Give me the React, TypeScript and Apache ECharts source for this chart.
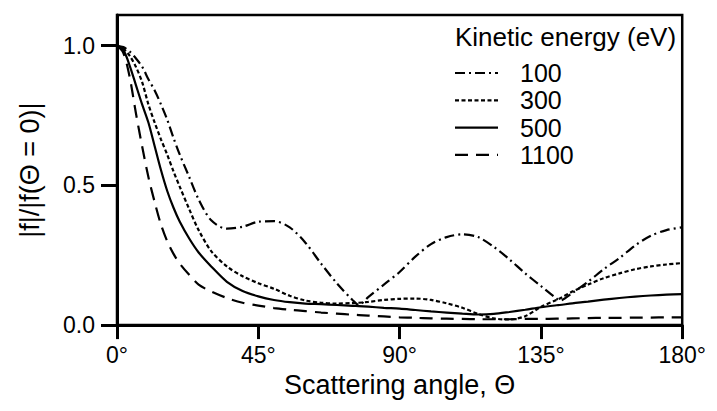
import React, { useEffect, useRef } from "react";
import * as echarts from "echarts";

// Scattering angle samples (degrees)
const angles = [
  0, 2, 4, 6, 8, 10, 12, 14, 16, 18, 20, 23, 26, 30, 35, 40, 45, 50, 55, 60,
  65, 70, 75, 77, 80, 85, 90, 95, 100, 105, 110, 115, 120, 125, 130, 135, 140,
  141, 145, 150, 155, 160, 165, 170, 175, 180,
];

// Normalised amplitude |f|/|f(0)| for each kinetic energy
const e100 = [
  1.0, 0.995, 0.98, 0.955, 0.925, 0.88, 0.84, 0.79, 0.735, 0.67, 0.61, 0.53,
  0.45, 0.375, 0.345, 0.352, 0.37, 0.372, 0.35, 0.295, 0.22, 0.15, 0.09, 0.072,
  0.1, 0.145, 0.19, 0.245, 0.29, 0.315, 0.325, 0.315, 0.28, 0.235, 0.185, 0.14,
  0.095, 0.088, 0.115, 0.155, 0.2, 0.24, 0.285, 0.32, 0.34, 0.35,
];
const e300 = [
  1.0, 0.99, 0.965, 0.925, 0.87, 0.79, 0.725, 0.665, 0.61, 0.55, 0.495, 0.415,
  0.34, 0.265, 0.21, 0.175, 0.15, 0.13, 0.105, 0.088, 0.08, 0.077, 0.079, 0.08,
  0.083, 0.09, 0.094, 0.095, 0.09, 0.078, 0.062, 0.04, 0.024, 0.02, 0.032,
  0.065, 0.09, 0.095, 0.12, 0.145, 0.168, 0.185, 0.2, 0.21, 0.217, 0.222,
];
const e500 = [
  1.0, 0.985, 0.93, 0.86, 0.79, 0.725, 0.64, 0.555, 0.48, 0.42, 0.37, 0.31,
  0.26, 0.21, 0.155, 0.122, 0.103, 0.09, 0.082, 0.077, 0.075, 0.072, 0.069,
  0.068, 0.066, 0.062, 0.059, 0.054, 0.049, 0.045, 0.041, 0.038, 0.04, 0.047,
  0.055, 0.064, 0.071, 0.072, 0.078, 0.084, 0.091, 0.097, 0.102, 0.106, 0.109,
  0.111,
];
const e1100 = [
  1.0, 0.975, 0.89, 0.76, 0.64, 0.53, 0.44, 0.36, 0.3, 0.255, 0.22, 0.18,
  0.145, 0.12, 0.097, 0.08, 0.07, 0.061, 0.055, 0.05, 0.045, 0.041, 0.037,
  0.036, 0.034, 0.031, 0.028, 0.026, 0.024, 0.023, 0.022, 0.021, 0.021, 0.021,
  0.022, 0.022, 0.023, 0.023, 0.024, 0.025, 0.026, 0.026, 0.027, 0.027, 0.028,
  0.028,
];

const energyNames = ["100", "300", "500", "1100"];
const xTicks = [0, 45, 90, 135, 180];
const yTicks = [0, 0.5, 1.0];

const FONT = "'Liberation Sans', Arial, Helvetica, sans-serif";

// Dash pattern per energy, shared by the curves and the key
const dashes: (number[] | null)[] = [[10, 4, 2, 4], [4, 2.5], null, [13, 8]];

export default function App() {
  const ref = useRef<HTMLDivElement>(null);

  useEffect(() => {
    if (!ref.current) return;
    const chart = echarts.init(ref.current, undefined, { renderer: "svg" });

    const seriesData = [e100, e300, e500, e1100];

    // Key: title plus one line sample and label per energy
    const keyLeft = 447;
    const keyTop = 65;
    const keyStep = 27.3;
    const keyItems: any[] = [
      {
        type: "text",
        x: keyLeft,
        y: 16,
        style: {
          text: "Kinetic energy (eV)",
          fontSize: 26,
          fontFamily: FONT,
          fill: "#000",
        },
      },
    ];
    energyNames.forEach((name, i) => {
      const cy = keyTop + i * keyStep;
      keyItems.push({
        type: "line",
        shape: { x1: keyLeft, y1: cy, x2: keyLeft + 43, y2: cy },
        style: {
          stroke: "#000",
          lineWidth: 2.2,
          lineDash: dashes[i] ?? undefined,
        },
      });
      keyItems.push({
        type: "text",
        x: keyLeft + 65,
        y: cy,
        style: {
          text: name,
          fontSize: 25,
          fontFamily: FONT,
          fill: "#000",
          verticalAlign: "middle",
        },
      });
    });

    chart.setOption({
      animation: false,
      backgroundColor: "#fff",
      textStyle: { fontFamily: FONT, color: "#000" },
      grid: {
        left: 98,
        right: 21,
        top: 7,
        bottom: 69,
        show: true,
        borderColor: "#000",
        borderWidth: 2.5,
      },
      graphic: keyItems,
      xAxis: {
        type: "value",
        min: 0,
        max: 180,
        interval: 45,
        name: "Scattering angle, Θ",
        nameLocation: "middle",
        nameGap: 45,
        nameTextStyle: { fontSize: 27, fontFamily: FONT, color: "#000" },
        axisLine: { show: true, lineStyle: { color: "#000", width: 3 } },
        axisTick: {
          show: true,
          inside: false,
          length: 14,
          lineStyle: { color: "#000", width: 3 },
          customValues: xTicks,
        },
        axisLabel: {
          fontSize: 23,
          fontFamily: FONT,
          color: "#000",
          margin: 18,
          customValues: xTicks,
          formatter: (v: number) => `${v}°`,
        },
        splitLine: { show: false },
      },
      yAxis: {
        type: "value",
        min: 0,
        max: 1.11,
        interval: 0.5,
        name: "|f|/|f(Θ = 0)|",
        nameLocation: "middle",
        nameRotate: 90,
        nameGap: 74,
        nameTextStyle: { fontSize: 27, fontFamily: FONT, color: "#000" },
        axisLine: { show: true, lineStyle: { color: "#000", width: 3 } },
        axisTick: {
          show: true,
          inside: false,
          length: 16,
          lineStyle: { color: "#000", width: 3 },
          customValues: yTicks,
        },
        axisLabel: {
          fontSize: 23,
          fontFamily: FONT,
          color: "#000",
          margin: 22,
          customValues: yTicks,
          formatter: (v: number) => v.toFixed(1),
        },
        splitLine: { show: false },
      },
      series: energyNames.map((name, i) => ({
        name,
        type: "line",
        data: angles.map((a, j) => [a, seriesData[i][j]]),
        smooth: 0.3,
        symbol: "none",
        showSymbol: false,
        color: "#000",
        lineStyle: {
          color: "#000",
          width: 2.2,
          type: dashes[i] ?? "solid",
        },
      })),
    });

    return () => chart.dispose();
  }, []);

  return <div ref={ref} style={{ width: 701, height: 395 }} />;
}
